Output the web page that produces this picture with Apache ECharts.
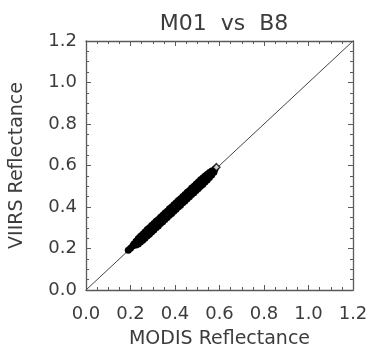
<!DOCTYPE html>
<html>
<head>
<meta charset="utf-8">
<script src="https://cdn.jsdelivr.net/npm/echarts@6/dist/echarts.min.js"></script>
<style>
  html, body { margin: 0; padding: 0; background: #fff; }
  #chart { width: 372px; height: 348px; }
</style>
</head>
<body>
<div id="chart"></div>
<script>
// M01 (VIIRS) vs B8 (MODIS) reflectance comparison
const chartTitle = 'M01  vs  B8';
const xAxisName = 'MODIS Reflectance';
const yAxisName = 'VIIRS Reflectance';
const axisTicks = [0.0, 0.2, 0.4, 0.6, 0.8, 1.0, 1.2];

// core of the matched-pixel cloud
const modisCore = [0.19,0.20,0.21,0.22,0.23,0.24,0.25,0.26,0.27,0.28,0.29,0.30,0.31,0.32,0.33,0.34,0.35,0.36,0.37,0.38,
                   0.39,0.40,0.41,0.42,0.43,0.44,0.45,0.46,0.47,0.48,0.49,0.50,0.51,0.52,0.53,0.54,0.55,0.56,0.57,0.58];
const viirsCore = [0.192,0.201,0.212,0.219,0.232,0.241,0.252,0.259,0.272,0.281,0.292,0.299,0.311,0.322,0.331,0.338,0.352,0.361,0.369,0.382,
                   0.391,0.402,0.409,0.421,0.432,0.439,0.451,0.462,0.469,0.481,0.492,0.499,0.512,0.521,0.529,0.542,0.551,0.561,0.572,0.583];

// upper edge of the cloud
const modisUpper = [0.215,0.225,0.235,0.245,0.255,0.265,0.275,0.285,0.295,0.305,0.315,0.325,0.335,0.345,0.355,0.365,0.375,0.385,
                    0.395,0.405,0.415,0.425,0.435,0.445,0.455,0.465,0.475,0.485,0.495,0.505,0.515,0.525,0.535,0.545,0.555,0.565];
const viirsUpper = [0.222,0.235,0.248,0.259,0.269,0.280,0.291,0.300,0.311,0.320,0.331,0.340,0.351,0.360,0.371,0.380,0.391,0.400,
                    0.411,0.420,0.431,0.440,0.451,0.460,0.471,0.480,0.491,0.500,0.511,0.520,0.531,0.540,0.549,0.558,0.566,0.573];

// lower edge of the cloud
const modisLower = [0.225,0.235,0.245,0.255,0.265,0.275,0.285,0.295,0.305,0.315,0.325,0.335,0.345,0.355,0.365,0.375,0.385,0.395,
                    0.405,0.415,0.425,0.435,0.445,0.455,0.465,0.475,0.485,0.495,0.505,0.515,0.525,0.535,0.545,0.555,0.565,0.575];
const viirsLower = [0.217,0.222,0.231,0.240,0.250,0.260,0.269,0.280,0.289,0.300,0.309,0.320,0.329,0.340,0.349,0.360,0.369,0.380,
                    0.389,0.400,0.409,0.420,0.429,0.440,0.449,0.460,0.469,0.480,0.489,0.500,0.509,0.520,0.530,0.542,0.554,0.567];

// brightest matched pixel, drawn as an open diamond
const modisPeak = [0.586];
const viirsPeak = [0.592];

// one-to-one reference line
const oneToOne = [0.0, 1.2];

const zip = (xs, ys) => xs.map((x, i) => [x, ys[i]]);
const cloud = zip(modisCore, viirsCore).concat(zip(modisUpper, viirsUpper), zip(modisLower, viirsLower));

const FONT = 'DejaVu Sans';
const INK = '#3c3c3c';
const AXIS = '#5a5a5a';

function axisBase(extra) {
  return Object.assign({
    type: 'value',
    min: axisTicks[0],
    max: axisTicks[axisTicks.length - 1],
    interval: 0.2,
    axisLine: { show: true, onZero: false, lineStyle: { color: AXIS, width: 1.3 } },
    axisTick: { show: true, inside: true, length: 5, lineStyle: { color: AXIS, width: 1 } },
    minorTick: { show: true, splitNumber: 4, length: 3, lineStyle: { color: AXIS, width: 1 } },
    splitLine: { show: false },
    minorSplitLine: { show: false }
  }, extra);
}

const labelStyle = { color: INK, fontFamily: FONT, fontSize: 18, formatter: v => v.toFixed(1) };

const chart = echarts.init(document.getElementById('chart'), null, { renderer: 'canvas' });
chart.setOption({
  animation: false,
  backgroundColor: '#fff',
  title: {
    text: chartTitle,
    left: 219,
    textAlign: 'center',
    top: 8,
    textStyle: { color: INK, fontFamily: FONT, fontSize: 22, fontWeight: 'normal' }
  },
  grid: { left: 86, right: 19, top: 41, bottom: 58, containLabel: false, outerBoundsMode: 'none' },
  xAxis: [
    axisBase({
      position: 'bottom',
      name: xAxisName,
      nameLocation: 'middle',
      nameGap: 40,
      nameTextStyle: { color: INK, fontFamily: FONT, fontSize: 19 },
      axisLabel: Object.assign({ margin: 15 }, labelStyle)
    }),
    axisBase({ position: 'top', axisLabel: { show: false } })
  ],
  yAxis: [
    axisBase({
      position: 'left',
      name: yAxisName,
      nameLocation: 'middle',
      nameGap: 59,
      nameTextStyle: { color: INK, fontFamily: FONT, fontSize: 19 },
      axisLabel: Object.assign({ margin: 9 }, labelStyle)
    }),
    axisBase({ position: 'right', axisLabel: { show: false } })
  ],
  series: [
    {
      type: 'line',
      data: zip(oneToOne, oneToOne),
      showSymbol: false,
      lineStyle: { color: '#444', width: 1 },
      z: 1
    },
    {
      type: 'scatter',
      data: cloud,
      symbol: 'circle',
      symbolSize: 7,
      itemStyle: { color: '#000', opacity: 1 },
      z: 2
    },
    {
      type: 'scatter',
      data: zip(modisPeak, viirsPeak),
      symbol: 'diamond',
      symbolSize: 7,
      itemStyle: { color: '#fff', borderColor: '#000', borderWidth: 1.5 },
      z: 3
    }
  ]
});
</script>
</body>
</html>
